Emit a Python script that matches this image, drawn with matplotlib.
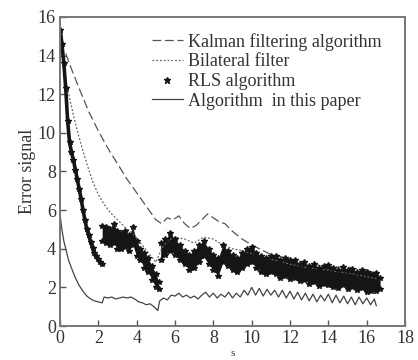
import numpy as np
import matplotlib
matplotlib.use("Agg")
import matplotlib.pyplot as plt

plt.rcParams['font.family'] = ['Liberation Serif', 'DejaVu Serif']

# Kalman filtering algorithm (dashed)
kal_x = [0.3, 0.6, 1.0, 1.5, 2.0, 2.5, 3.0, 3.5, 4.0, 4.5, 5.0, 5.3, 5.6, 5.9, 6.2, 6.5,
         6.8, 7.1, 7.4, 7.7, 8.0, 8.3, 8.6, 9.0, 9.5, 10.0, 10.5, 11.0, 11.5, 12.0, 12.5,
         13.0, 13.5, 14.0, 14.5, 15.0, 15.5, 16.0, 16.5]
kal_y = [14.1, 13.3, 12.3, 11.1, 10.1, 9.2, 8.4, 7.6, 6.9, 6.2, 5.5, 5.3, 5.6, 5.5, 5.7, 5.3,
         5.05, 5.2, 5.5, 5.8, 5.6, 5.4, 5.3, 4.9, 4.5, 4.2, 3.95, 3.7, 3.6, 3.45, 3.35,
         3.25, 3.15, 3.1, 3.05, 3.05, 2.95, 2.9, 2.75]

# Bilateral filter (dotted)
bil_x = [0.15, 0.3, 0.5, 0.8, 1.1, 1.4, 1.7, 2.0, 2.3, 2.6, 3.0, 3.4, 3.8, 4.2, 4.6, 5.0,
         5.3, 5.6, 6.0, 6.5, 7.0, 7.5, 8.0, 8.5, 9.0, 9.5, 10.0, 10.5, 11.0, 11.5, 12.0,
         12.5, 13.0, 13.5, 14.0, 14.5, 15.0, 15.5, 16.0, 16.5]
bil_y = [13.9, 12.7, 11.8, 10.5, 9.4, 8.4, 7.5, 6.8, 6.3, 5.9, 5.5, 5.1, 4.8, 4.3, 3.8, 3.3,
         4.0, 4.4, 4.6, 4.5, 4.3, 4.6, 4.5, 4.2, 4.0, 3.9, 3.75, 3.6, 3.45, 3.35, 3.2,
         3.1, 3.0, 2.95, 2.9, 2.8, 2.75, 2.65, 2.55, 2.45]

# RLS algorithm: steep start, then two noisy bands (upper / lower edge)
rls_x = [0.02, 0.1, 0.2, 0.3, 0.4, 0.5, 0.6, 0.7, 0.8, 0.9, 1.0, 1.1, 1.2, 1.3, 1.4, 1.5,
         1.6, 1.7, 1.8, 1.9, 2.0, 2.1, 2.2]
rls_y = [15.3, 14.6, 13.6, 12.3, 10.6, 9.5, 9.0, 8.6, 8.1, 7.6, 7.1, 6.6, 6.0, 5.5, 5.0, 4.7,
         4.35, 4.05, 3.8, 3.6, 3.45, 3.3, 3.2]

band1_x = [2.2, 2.4, 2.6, 2.8, 3.0, 3.2, 3.4, 3.6, 3.8, 4.0, 4.2, 4.4, 4.6, 4.8, 5.0, 5.15]
band1_hi = [5.2, 5.1, 5.0, 5.3, 4.9, 4.8, 4.9, 4.7, 5.1, 4.4, 4.0, 3.8, 3.5, 3.1, 2.7, 2.3]
band1_lo = [4.4, 4.3, 4.2, 4.3, 4.0, 4.0, 4.1, 3.9, 4.2, 3.6, 3.4, 3.0, 2.8, 2.4, 2.0, 1.9]

band2_x = [5.25, 5.5, 5.75, 6.0, 6.25, 6.5, 6.75, 7.0, 7.25, 7.5, 7.75, 8.0, 8.25, 8.5, 8.75,
           9.0, 9.25, 9.5, 9.75, 10.0, 10.25, 10.5, 10.75, 11.0, 11.25, 11.5, 11.75, 12.0,
           12.25, 12.5, 12.75, 13.0, 13.25, 13.5, 13.75, 14.0, 14.25, 14.5, 14.75, 15.0,
           15.25, 15.5, 15.75, 16.0, 16.25, 16.5, 16.7]
band2_hi = [4.3, 4.5, 4.8, 4.5, 4.2, 3.9, 3.7, 3.9, 4.2, 4.4, 4.0, 3.7, 3.5, 4.2, 3.9,
            3.7, 3.5, 3.8, 4.0, 4.1, 3.8, 3.6, 3.5, 3.6, 3.6, 3.4, 3.5, 3.4,
            3.4, 3.2, 3.3, 3.1, 3.2, 3.0, 3.1, 3.15, 3.0, 2.9, 3.05, 2.9,
            2.95, 2.8, 2.9, 2.8, 2.7, 2.75, 2.5]
band2_lo = [3.4, 3.7, 3.9, 3.7, 3.4, 3.2, 2.9, 3.0, 3.3, 3.6, 3.2, 2.9, 2.6, 3.3, 3.1,
            2.9, 2.8, 3.0, 3.2, 3.3, 3.0, 2.8, 2.7, 2.8, 2.7, 2.5, 2.6, 2.45,
            2.5, 2.35, 2.4, 2.2, 2.3, 2.05, 2.2, 2.1, 2.0, 1.95, 2.1, 1.9,
            2.0, 1.85, 1.95, 1.75, 1.8, 1.8, 1.9]

# Algorithm in this paper (solid)
pap_x = [0.0, 0.1, 0.2, 0.3, 0.45, 0.6, 0.8, 1.0, 1.2, 1.4, 1.6, 1.8, 2.0, 2.2,
         2.3, 2.5, 2.7, 2.9, 3.1, 3.3, 3.5, 3.7, 3.9, 4.1, 4.3, 4.5, 4.7, 4.9, 5.1,
         5.2, 5.4, 5.6, 5.8, 6.0, 6.2, 6.4, 6.6, 6.8, 7.0, 7.2, 7.4, 7.6, 7.8, 8.0,
         8.2, 8.4, 8.6, 8.8, 9.0, 9.2, 9.4, 9.6, 9.8, 10.0, 10.2, 10.4, 10.6, 10.8,
         11.0, 11.2, 11.4, 11.6, 11.8, 12.0, 12.2, 12.4, 12.6, 12.8, 13.0, 13.2, 13.4,
         13.6, 13.8, 14.0, 14.2, 14.4, 14.6, 14.8, 15.0, 15.2, 15.4, 15.6, 15.8, 16.0,
         16.2, 16.4, 16.5]
pap_y = [5.8, 5.0, 4.4, 4.0, 3.4, 3.0, 2.5, 2.1, 1.8, 1.55, 1.4, 1.3, 1.25, 1.2,
         1.5, 1.45, 1.5, 1.4, 1.45, 1.5, 1.45, 1.5, 1.4, 1.25, 1.2, 1.1, 1.15, 1.0, 0.8,
         1.3, 1.45, 1.35, 1.6, 1.55, 1.7, 1.5, 1.6, 1.45, 1.55, 1.4, 1.6, 1.75, 1.5, 1.7,
         1.45, 1.65, 1.5, 1.75, 1.45, 1.7, 1.5, 1.85, 1.6, 2.0, 1.6, 1.95, 1.55, 1.9,
         1.6, 1.85, 1.5, 1.85, 1.45, 1.8, 1.4, 1.75, 1.35, 1.7, 1.3, 1.65, 1.25,
         1.6, 1.3, 1.65, 1.2, 1.6, 1.2, 1.55, 1.15, 1.5, 1.1, 1.5, 1.15, 1.45,
         1.1, 1.4, 1.05]

labels = ['Kalman filtering algorithm', 'Bilateral filter', 'RLS algorithm',
          'Algorithm  in this paper']

fig = plt.figure(figsize=(4.18, 3.6), dpi=100)
ax = fig.add_axes([0.1435, 0.0944, 0.8255, 0.8586])

ax.plot(kal_x, kal_y, color='#555555', lw=0.9, ls=(0, (7, 3)), label=labels[0])
ax.plot(bil_x, bil_y, color='#666666', lw=0.9, ls=(0, (1.5, 1.5)), label=labels[1])

ink = '#151515'
ax.plot(rls_x, rls_y, color=ink, lw=2.6, marker='*', ms=4, label=labels[2])
for bx, hi, lo in [(band1_x, band1_hi, band1_lo), (band2_x, band2_hi, band2_lo)]:
    ax.fill_between(bx, lo, hi, color=ink, lw=0)
    ax.plot(bx, hi, ls='none', marker='*', ms=4, color=ink)
    ax.plot(bx, lo, ls='none', marker='*', ms=4, color=ink)

ax.plot(pap_x, pap_y, color='#444444', lw=0.9, label=labels[3])

ax.set_xlim(0, 18)
ax.set_ylim(0, 16)
ax.set_xticks(np.arange(0, 19, 2))
ax.set_yticks(np.arange(0, 17, 2))
ax.tick_params(direction='in', length=4, width=1, colors='#555555', labelcolor='#333333',
               labelsize=13, pad=3)
for sp in ax.spines.values():
    sp.set_color('#777777')
    sp.set_linewidth(1.4)

ax.set_ylabel('Error signal', fontsize=13, color='#333333', labelpad=1)
ax.set_xlabel('s', fontsize=8, color='#333333', labelpad=1)

handles, labs = ax.get_legend_handles_labels()
leg = ax.legend(handles, labs, loc='upper left', bbox_to_anchor=(0.23, 0.99),
                frameon=False, fontsize=13, handlelength=1.7, handletextpad=0.3,
                labelspacing=0.15, borderpad=0.2, markerscale=1.2)
for t in leg.get_texts():
    t.set_color('#333333')
leg.legend_handles[2].set_linestyle('none')

fig.savefig('out.png', dpi=100)
